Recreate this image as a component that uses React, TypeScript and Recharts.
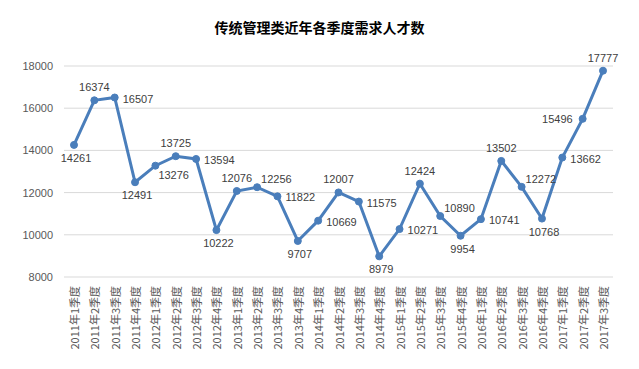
import React from "react";
import {
  LineChart,
  Line,
  XAxis,
  YAxis,
  CartesianGrid,
  LabelList,
} from "recharts";

const quarters = [
  "2011年1季度", "2011年2季度", "2011年3季度", "2011年4季度",
  "2012年1季度", "2012年2季度", "2012年3季度", "2012年4季度",
  "2013年1季度", "2013年2季度", "2013年3季度", "2013年4季度",
  "2014年1季度", "2014年2季度", "2014年3季度", "2014年4季度",
  "2015年1季度", "2015年2季度", "2015年3季度", "2015年4季度",
  "2016年1季度", "2016年2季度", "2016年3季度", "2016年4季度",
  "2017年1季度", "2017年2季度", "2017年3季度",
];

const demand = [
  14261, 16374, 16507, 12491,
  13276, 13725, 13594, 10222,
  12076, 12256, 11822, 9707,
  10669, 12007, 11575, 8979,
  10271, 12424, 10890, 9954,
  10741, 13502, 12272, 10768,
  13662, 15496, 17777,
];

const yTicks = [8000, 10000, 12000, 14000, 16000, 18000];

// where each data label sits relative to its point
const labelSide = [
  "b", "t", "r", "b", "br", "t", "r", "b", "t", "tr", "r", "b", "r", "t",
  "r", "b", "r", "t", "tr", "b", "r", "t", "tr", "b", "r", "l", "t",
];

const data = quarters.map((q, i) => ({ name: q, value: demand[i] }));

const LINE = "#4A7EBB";
const FONT = "'Liberation Sans', Arial, sans-serif";
const CJK = "'Noto Sans CJK SC', sans-serif";

function PointLabel(props: any) {
  const { x, y, value, index } = props;
  const side = labelSide[index];
  let dx = 0;
  let dy = 0;
  let anchor: "start" | "middle" | "end" = "middle";
  if (side === "t") dy = -13;
  else if (side === "b") { dx = 2; dy = 13; }
  else if (side === "r") { dx = 8; dy = 1; anchor = "start"; }
  else if (side === "l") { dx = -10; anchor = "end"; }
  else if (side === "tr") { dx = 4; dy = -8; anchor = "start"; }
  else if (side === "br") { dx = 3; dy = 9; anchor = "start"; }
  return (
    <text
      x={x + dx}
      y={y + dy}
      textAnchor={anchor}
      dominantBaseline="central"
      fontSize={11}
      fontFamily={FONT}
      fill="#404040"
    >
      {value}
    </text>
  );
}

function QuarterTick(props: any) {
  const { x, y, payload } = props;
  return (
    <g transform={`translate(${x},${y + 1})`}>
      <text
        transform="rotate(-90)"
        textAnchor="end"
        dominantBaseline="central"
        fontSize={11}
        fontFamily={CJK}
        fill="#595959"
      >
        {payload.value}
      </text>
    </g>
  );
}

export default function App() {
  return (
    <div style={{ position: "absolute", left: 0, top: 0, width: 639, height: 369, background: "#fff" }}>
      <div
        style={{
          position: "absolute",
          left: 0,
          top: 17,
          width: 639,
          textAlign: "center",
          fontFamily: CJK,
          fontSize: 14,
          fontWeight: "bold",
          color: "#000",
          lineHeight: "20px",
        }}
      >
        传统管理类近年各季度需求人才数
      </div>
      <LineChart
        width={639}
        height={369}
        data={data}
        margin={{ top: 66, right: 26, bottom: 12, left: 0 }}
      >
        <CartesianGrid vertical={false} stroke="#d9d9d9" />
        <XAxis
          dataKey="name"
          interval={0}
          axisLine={false}
          tickLine={false}
          height={80}
          padding={{ left: 10, right: 10 }}
          tick={<QuarterTick />}
        />
        <YAxis
          domain={[8000, 18000]}
          ticks={yTicks}
          width={64}
          axisLine={false}
          tickLine={false}
          tickMargin={5}
          tick={{ fontSize: 11, fontFamily: FONT, fill: "#595959" }}
        />
        <Line
          type="linear"
          dataKey="value"
          stroke={LINE}
          strokeWidth={3}
          dot={{ r: 3.5, fill: LINE, stroke: LINE, strokeWidth: 1 }}
          isAnimationActive={false}
        >
          <LabelList dataKey="value" content={<PointLabel />} />
        </Line>
      </LineChart>
    </div>
  );
}
